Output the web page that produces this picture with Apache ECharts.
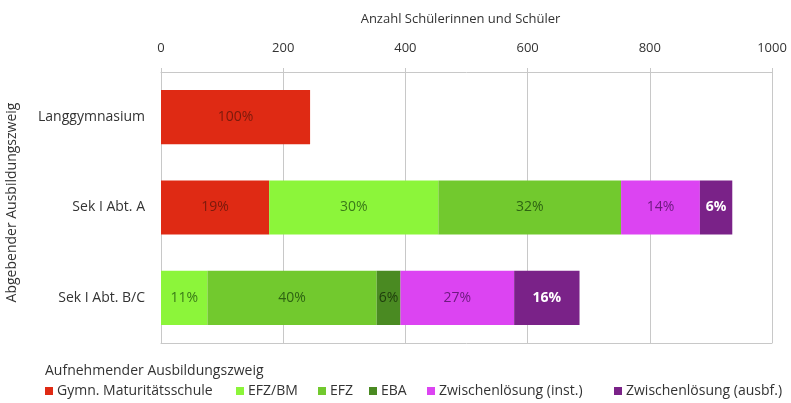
<!DOCTYPE html>
<html>
<head>
<meta charset="utf-8">
<script src="https://cdn.jsdelivr.net/npm/echarts@6/dist/echarts.min.js"></script>
<style>html,body{margin:0;padding:0;background:#fff}#c{width:791px;height:403px}</style>
</head>
<body>
<div id="c"></div>
<script>
const categories = ['Langgymnasium', 'Sek I Abt. A', 'Sek I Abt. B/C'];
const xTicks = [0, 200, 400, 600, 800, 1000];
const seriesNames = ['Gymn. Maturitätsschule', 'EFZ/BM', 'EFZ', 'EBA', 'Zwischenlösung (inst.)', 'Zwischenlösung (ausbf.)'];
const gymn  = [244, 177, null];
const efzbm = [null, 277, 76];
const efz   = [null, 299, 277];
const eba   = [null, null, 39];
const inst  = [null, 129, 186];
const ausbf = [null, 53, 107];
const gymnPct  = ['100%', '19%', ''];
const efzbmPct = ['', '30%', '11%'];
const efzPct   = ['', '32%', '40%'];
const ebaPct   = ['', '', '6%'];
const instPct  = ['', '14%', '27%'];
const ausbfPct = ['', '6%', '16%'];

const FONT = '"Open Sans", sans-serif';
const colors = ['#df2a14', '#8cf53a', '#72c92e', '#4a8a22', '#dc44f2', '#7a2288'];
const labelColors = ['#7a1a0c', '#3a7a18', '#2e6412', '#1e3c0c', '#6e1a80', '#ffffff'];
const values = [gymn, efzbm, efz, eba, inst, ausbf];
const pcts = [gymnPct, efzbmPct, efzPct, ebaPct, instPct, ausbfPct];
const legendLeft = [45, 236, 318, 369, 427, 614];

const series = seriesNames.map((name, i) => ({
  name: name,
  type: 'bar',
  stack: 'total',
  barWidth: '60%',
  data: values[i],
  itemStyle: { color: colors[i] },
  label: {
    show: true,
    position: 'inside',
    fontFamily: FONT,
    fontSize: 14,
    fontWeight: i === 5 ? 'bold' : 'normal',
    color: labelColors[i],
    formatter: p => pcts[i][p.dataIndex]
  }
}));

const legends = seriesNames.map((name, i) => ({
  left: legendLeft[i] - 2, top: 382,
  itemWidth: 8, itemHeight: 8, itemGap: 0,
  icon: 'rect',
  padding: [2, 2, 2, 2],
  textStyle: { fontFamily: FONT, fontSize: 14, color: '#333', padding: [0, 0, 0, -1] },
  data: [name]
}));

const chart = echarts.init(document.getElementById('c'));
chart.setOption({
  animation: false,
  textStyle: { fontFamily: FONT },
  title: {
    text: 'Aufnehmender Ausbildungszweig',
    left: 40, top: 359,
    textStyle: { fontFamily: FONT, fontSize: 14, fontWeight: 'normal', color: '#333' }
  },
  legend: legends,
  grid: { left: 161, right: 19, top: 72, bottom: 60, outerBoundsMode: 'none', containLabel: false },
  xAxis: [{
    type: 'value',
    position: 'top',
    min: 0, max: 1000, interval: 200,
    name: 'Anzahl Schülerinnen und Schüler',
    nameLocation: 'middle',
    nameGap: 46,
    nameTextStyle: { fontFamily: FONT, fontSize: 13, color: '#333', padding: [0, 12, 0, 0] },
    axisLine: { show: true, lineStyle: { color: '#c8c8c8' } },
    axisTick: { show: true, length: 4, lineStyle: { color: '#c8c8c8' } },
    axisLabel: { fontFamily: FONT, fontSize: 13, color: '#333', margin: 17,
      formatter: v => xTicks.includes(v) ? String(v) : '' },
    splitLine: { show: true, lineStyle: { color: '#c8c8c8' } }
  }, {
    type: 'value',
    position: 'bottom',
    min: 0, max: 1000, interval: 200,
    axisLine: { show: true, lineStyle: { color: '#c8c8c8' } },
    axisTick: { show: false },
    axisLabel: { show: false },
    splitLine: { show: false }
  }],
  yAxis: {
    type: 'category',
    inverse: true,
    data: categories,
    name: 'Abgebender Ausbildungszweig',
    nameLocation: 'middle',
    nameGap: 142,
    nameRotate: 90,
    nameTextStyle: { fontFamily: FONT, fontSize: 14, color: '#333', padding: [0, 0, 0, 10] },
    axisLine: { show: true, lineStyle: { color: '#c8c8c8' } },
    axisTick: { show: false },
    axisLabel: { fontFamily: FONT, fontSize: 14, color: '#333', margin: 16 }
  },
  series: series
});
</script>
</body>
</html>
